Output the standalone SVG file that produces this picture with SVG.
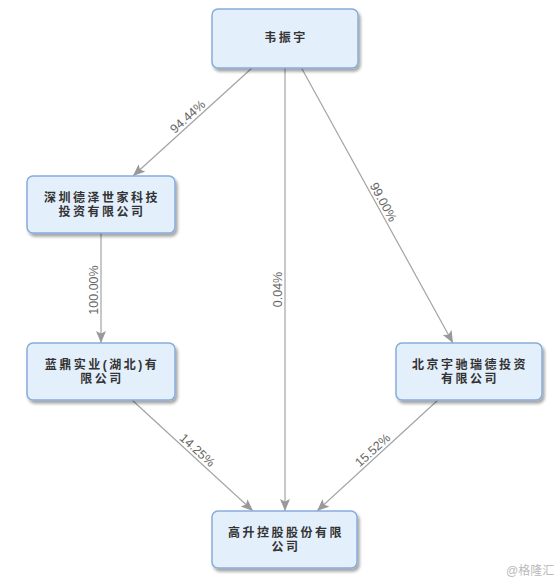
<svg xmlns="http://www.w3.org/2000/svg" width="554" height="584" viewBox="0 0 554 584">
<style>
.node rect{fill:#e4effc;stroke:#86acdc;stroke-width:1.5;filter:url(#sh)}
.node text{font-family:"Liberation Sans","Noto Sans CJK SC",sans-serif;font-size:12px;font-weight:bold;fill:#333;letter-spacing:2.5px;text-anchor:middle;dominant-baseline:central}
.edges line{stroke:#a3a3a3;stroke-width:1.2;marker-end:url(#ah)}
.lbl{font-family:"Liberation Sans",sans-serif;font-size:12.5px;fill:#666;text-anchor:middle}
.wm{font-family:"Liberation Sans","Noto Sans CJK SC",sans-serif;font-size:12px;fill:#bbb}
</style>
<defs>
<filter id="sh" x="-10%" y="-20%" width="130%" height="150%">
<feDropShadow dx="2" dy="3" stdDeviation="1.8" flood-color="#000" flood-opacity="0.35"/>
</filter>
<marker id="ah" markerUnits="userSpaceOnUse" markerWidth="13" markerHeight="11" refX="12" refY="5" orient="auto">
<path d="M0,0 L12,5 L0,10 L2.5,5 Z" fill="#999"/>
</marker>
</defs>
<g class="edges">
<line x1="252" y1="68" x2="133" y2="176"/>
<line x1="285" y1="68" x2="285" y2="511"/>
<line x1="301.5" y1="68" x2="453" y2="343"/>
<line x1="101" y1="233" x2="101" y2="343"/>
<line x1="132" y1="400" x2="253" y2="511"/>
<line x1="438" y1="400" x2="317" y2="511"/>
<text class="lbl" transform="translate(192.5,122) rotate(-42.2)" y="-3">94.44%</text>
<text class="lbl" transform="translate(377,205.5) rotate(61.2)" y="-3">99.00%</text>
<text class="lbl" transform="translate(285,289.5) rotate(-90)" y="-3">0.04%</text>
<text class="lbl" transform="translate(101,290) rotate(-90)" y="-3">100.00%</text>
<text class="lbl" transform="translate(192.5,455.5) rotate(42.4)" y="-3">14.25%</text>
<text class="lbl" transform="translate(377.5,455.5) rotate(-42.4)" y="-3">15.52%</text>
</g>
<g id="n1" class="node"><rect x="212" y="9" width="146" height="59" rx="6"/><text x="286" y="38">韦振宇</text></g>
<g id="n2" class="node"><rect x="27" y="176" width="148" height="57" rx="6"/><text x="102" y="198">深圳德泽世家科技</text><text x="102" y="212">投资有限公司</text></g>
<g id="n3" class="node"><rect x="27" y="343" width="148" height="57" rx="6"/><text x="102" y="365">蓝鼎实业(湖北)有</text><text x="102" y="379">限公司</text></g>
<g id="n4" class="node"><rect x="396" y="343" width="146" height="57" rx="6"/><text x="470" y="365">北京宇驰瑞德投资</text><text x="470" y="379">有限公司</text></g>
<g id="n5" class="node"><rect x="212" y="511" width="145" height="57" rx="6"/><text x="286" y="533">高升控股股份有限</text><text x="286" y="547">公司</text></g>
<text class="wm" x="506" y="575">@格隆汇</text>
</svg>
